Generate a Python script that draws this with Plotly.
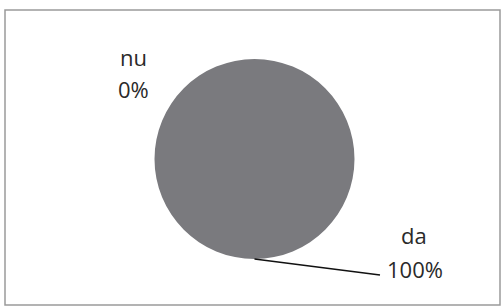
import plotly.graph_objects as go

labels = ["nu", "da"]
values = [0, 100]

W, H = 502, 308
total = sum(values)
pcts = [f"{round(v / total * 100)}%" for v in values]

# pie domain in paper fractions
dom_x = [154 / W, 355 / W]
dom_y = [1 - 259 / H, 1 - 59 / H]

fig = go.Figure(go.Pie(
    labels=labels,
    values=values,
    textinfo="none",
    hoverinfo="label+percent",
    sort=False,
    marker=dict(colors=["#ffffff", "#7a7a7e"], line=dict(width=0)),
    domain=dict(x=dom_x, y=dom_y),
    showlegend=False,
))

font = dict(family="Open Sans, Liberation Sans, sans-serif", size=22, color="#2a2a2a")

def px(x):
    return x / W

def py(y):
    return 1 - y / H

cx = (dom_x[0] + dom_x[1]) / 2
bottom = dom_y[0]

common = dict(xref="paper", yref="paper", xanchor="center", yanchor="middle", font=font)
annotations = [
    dict(x=px(133), y=py(57), text=labels[0], showarrow=False, **common),
    dict(x=px(133), y=py(89), text=pcts[0], showarrow=False, **common),
    dict(x=px(414), y=py(235), text=labels[1], showarrow=False, **common),
    dict(x=px(415), y=py(269), text=pcts[1], showarrow=False, **common),
    # leader line from the bottom of the pie to the "da" label
    dict(x=cx, y=bottom, xref="paper", yref="paper", text=" ",
         font=dict(size=1), borderpad=0,
         showarrow=True, arrowhead=0, arrowwidth=1.6, arrowcolor="#111111",
         ax=126, ay=16),
]

fig.update_layout(
    width=W, height=H,
    margin=dict(l=0, r=0, t=0, b=0),
    paper_bgcolor="#ffffff",
    plot_bgcolor="#ffffff",
    annotations=annotations,
    shapes=[dict(type="rect", xref="paper", yref="paper",
                 x0=5 / W, x1=500 / W, y0=1 - 305 / H, y1=1 - 10 / H,
                 line=dict(color="#9a9a9a", width=1.5))],
)

fig.write_html("out.html", config={"displayModeBar": False},
               post_script="document.body.style.margin='0';document.body.style.overflow='hidden';")
